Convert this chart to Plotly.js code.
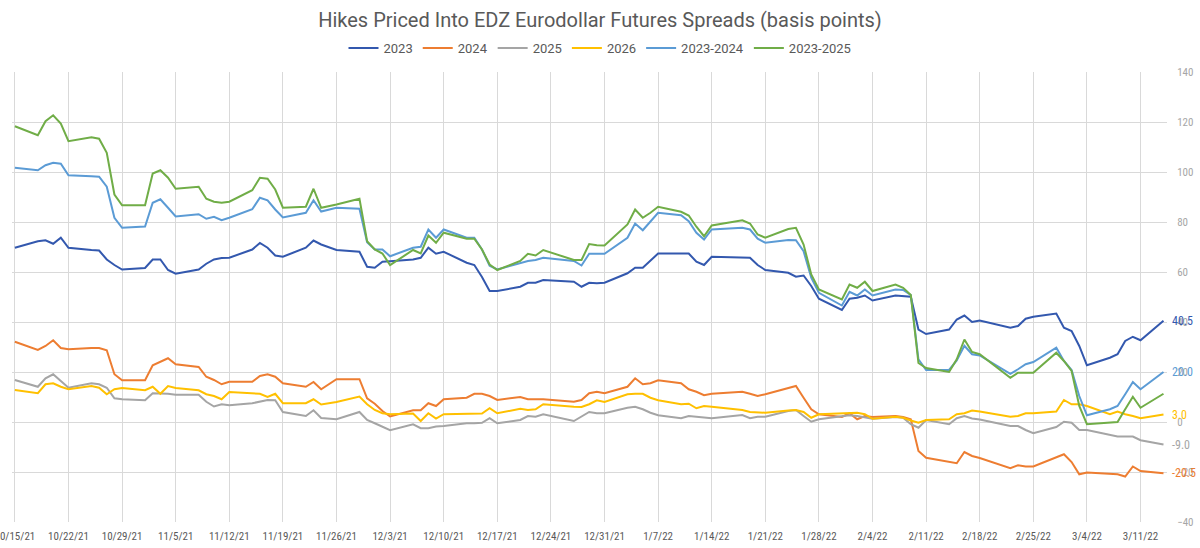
<!DOCTYPE html>
<html>
<head>
<meta charset="utf-8">
<script src="https://cdn.plot.ly/plotly-3.0.1.min.js"></script>
<style>html,body{margin:0;padding:0;background:#fff;}#chart{width:1200px;height:548px;}</style>
</head>
<body>
<div id="chart"></div>
<script>
const dates = [
 '2021-10-15','2021-10-18','2021-10-19','2021-10-20','2021-10-21','2021-10-22','2021-10-25','2021-10-26','2021-10-27','2021-10-28','2021-10-29',
 '2021-11-01','2021-11-02','2021-11-03','2021-11-04','2021-11-05','2021-11-08','2021-11-09','2021-11-10','2021-11-11','2021-11-12',
 '2021-11-15','2021-11-16','2021-11-17','2021-11-18','2021-11-19','2021-11-22','2021-11-23','2021-11-24','2021-11-26','2021-11-29','2021-11-30',
 '2021-12-01','2021-12-02','2021-12-03','2021-12-06','2021-12-07','2021-12-08','2021-12-09','2021-12-10','2021-12-13','2021-12-14','2021-12-15','2021-12-16','2021-12-17',
 '2021-12-20','2021-12-21','2021-12-22','2021-12-23','2021-12-27','2021-12-28','2021-12-29','2021-12-30','2021-12-31',
 '2022-01-03','2022-01-04','2022-01-05','2022-01-06','2022-01-07','2022-01-10','2022-01-11','2022-01-12','2022-01-13','2022-01-14',
 '2022-01-18','2022-01-19','2022-01-20','2022-01-21','2022-01-24','2022-01-25','2022-01-26','2022-01-27','2022-01-28','2022-01-31',
 '2022-02-01','2022-02-02','2022-02-03','2022-02-04','2022-02-07','2022-02-08','2022-02-09','2022-02-10','2022-02-11',
 '2022-02-14','2022-02-15','2022-02-16','2022-02-17','2022-02-18','2022-02-22','2022-02-23','2022-02-24','2022-02-25','2022-02-28',
 '2022-03-01','2022-03-02','2022-03-03','2022-03-04','2022-03-07','2022-03-08','2022-03-09','2022-03-10','2022-03-11','2022-03-14'
];

const s2023 = [
 69.7,72.3,72.7,71.3,73.7,69.7,68.8,68.6,65.0,62.8,61.0,
 61.6,65.0,65.0,60.8,59.3,61.0,63.3,65.0,65.6,65.7,69.0,71.6,69.7,66.6,66.1,69.7,72.6,71.0,68.8,68.1,62.1,
 61.7,64.1,64.3,65.0,65.7,69.7,67.3,68.1,63.7,62.8,58.0,52.4,52.4,54.1,55.7,55.7,56.8,56.1,54.1,55.7,55.5,55.7,
 59.5,61.7,61.7,64.5,67.4,67.4,67.4,64.1,62.8,66.1,65.8,65.7,62.8,60.8,59.7,58.1,58.6,54.4,49.3,44.8,
 49.3,49.7,50.6,48.6,50.6,50.4,50.1,37.0,35.2,37.0,41.0,42.6,40.0,40.6,37.7,38.4,41.3,42.1,43.4,
 37.7,36.4,30.4,22.7,25.7,27.1,32.4,34.1,32.7,40.5
];
const s2024 = [
 32.1,28.8,30.4,32.7,29.6,29.1,29.6,29.6,28.7,19.1,16.7,
 16.7,22.7,24.1,25.5,23.1,22.0,18.1,16.8,15.1,16.1,16.1,18.4,19.1,18.1,15.5,14.1,16.0,13.1,17.1,17.1,9.5,
 7.3,4.4,2.2,4.7,4.7,7.5,6.4,9.1,9.7,11.3,11.3,10.4,8.8,10.0,9.1,9.1,9.1,8.1,8.8,11.5,12.1,11.5,
 14.1,17.5,15.1,15.5,16.7,15.5,13.1,12.1,10.7,11.3,12.1,11.3,10.4,11.1,13.5,14.4,9.7,5.1,3.1,2.0,
 3.5,1.1,2.4,2.0,2.4,2.0,1.1,-11.6,-14.3,-16.0,-16.5,-12.0,-13.6,-14.4,-18.5,-17.3,-17.8,-17.8,-14.2,
 -12.9,-16.0,-20.9,-20.2,-20.5,-20.9,-21.8,-17.8,-19.6,-20.5
];
const s2025 = [
 16.8,14.1,17.5,19.1,16.4,13.7,15.5,15.1,13.7,9.5,9.1,
 8.7,11.5,11.5,11.3,10.9,10.9,8.1,6.2,7.1,6.7,7.5,8.1,8.8,8.7,4.0,2.4,4.7,1.6,1.1,4.0,0.8,
 -0.5,-2.0,-3.3,-0.9,-2.5,-2.5,-1.8,-1.6,-0.5,-0.5,-0.3,1.5,-0.5,0.8,2.4,2.1,3.1,0.4,2.1,4.0,3.5,3.5,
 5.7,6.1,5.1,3.7,2.7,1.5,2.4,2.1,1.5,1.5,2.8,1.5,2.1,2.1,4.4,4.8,2.4,0.1,1.1,2.4,
 2.7,2.4,1.7,1.3,2.0,1.7,-0.9,-2.3,0.8,-0.9,1.5,2.4,1.4,1.0,-1.6,-1.6,-3.2,-4.5,-2.0,
 0.1,-0.3,-3.2,-3.2,-5.2,-5.8,-5.8,-5.8,-7.3,-9.0
];
const s2026 = [
 12.8,11.5,15.1,15.5,14.1,13.1,14.4,13.7,11.1,13.1,13.6,
 12.7,14.1,11.3,14.4,13.6,12.7,11.1,10.4,9.1,12.0,11.5,11.3,10.0,11.3,7.5,7.5,9.1,7.0,8.0,10.2,7.1,
 4.8,3.5,3.1,3.4,0.4,3.5,1.4,3.1,3.1,3.1,3.4,5.5,3.5,5.3,4.8,5.1,7.1,6.1,6.0,7.1,8.7,8.0,
 11.1,11.3,11.3,9.7,8.7,7.1,7.3,5.5,6.4,6.1,4.8,4.0,3.7,3.7,4.6,4.8,4.0,1.7,3.1,3.5,
 3.7,3.7,3.1,1.3,2.1,1.7,0.6,-0.3,0.8,1.1,3.1,3.5,4.6,4.2,2.1,2.4,3.5,3.5,4.2,
 8.8,7.1,7.1,6.4,3.1,4.2,3.1,2.4,1.5,3.0
];
const s2023_2024 = [
 101.7,100.7,102.7,103.7,103.3,98.7,98.3,98.1,94.1,81.7,77.7,
 78.2,87.7,89.1,85.7,82.2,83.1,81.3,82.1,80.7,81.7,85.1,89.7,88.7,85.0,81.8,83.7,88.7,84.2,85.7,85.3,71.9,
 69.0,69.0,66.3,69.7,70.1,77.0,73.7,77.0,73.7,73.7,69.0,62.5,61.0,63.7,64.4,64.8,65.7,64.4,62.6,67.3,67.3,67.3,
 73.7,79.4,76.7,80.3,83.7,82.7,80.3,75.7,73.0,77.0,77.7,77.0,73.3,71.7,72.8,72.7,68.3,57.7,51.7,46.6,
 52.1,50.6,53.0,50.6,53.0,52.8,50.8,25.1,20.8,20.8,24.6,30.5,27.1,26.6,19.3,21.1,23.1,24.0,29.7,
 24.4,20.8,10.4,2.7,5.1,6.4,11.1,16.0,13.1,20.0
];
const s2023_2025 = [
 118.3,114.7,120.3,122.7,119.4,112.3,113.9,113.3,107.7,91.0,86.7,
 86.7,99.4,100.7,97.7,93.3,94.1,89.3,88.1,87.7,88.1,92.7,97.7,97.3,93.0,85.7,86.1,93.3,85.7,87.0,89.3,72.3,
 69.0,67.4,62.8,68.8,67.4,74.6,71.7,75.7,73.3,73.3,69.0,63.0,60.8,64.4,67.3,66.6,68.8,64.8,64.8,71.2,70.7,70.6,
 79.0,85.0,81.7,83.7,86.1,84.1,82.6,78.1,74.3,78.6,80.7,79.4,75.0,73.7,77.2,77.7,71.0,59.0,53.0,49.0,
 55.0,53.7,56.1,52.4,55.0,53.7,50.8,23.6,21.6,20.0,25.1,33.0,28.0,27.1,17.7,19.7,19.7,19.7,27.7,
 24.4,20.4,6.4,-0.9,-0.3,0.0,5.1,10.1,5.7,11.3
];

const seriesNames = ['2023','2024','2025','2026','2023-2024','2023-2025'];
const seriesValues = [s2023, s2024, s2025, s2026, s2023_2024, s2023_2025];
const seriesColors = ['#3358AE','#ED7D31','#A5A5A5','#FFC000','#5B9BD5','#70AD47'];
const endLabelSeries = ['2023','2024','2025','2026','2023-2024'];

const narrow = '"Liberation Sans Narrow", "Roboto Condensed", "DejaVu Sans Condensed", Roboto, sans-serif';

const traces = seriesNames.map((n, i) => ({
  type: 'scatter', mode: 'lines', name: n, x: dates, y: seriesValues[i],
  line: {color: seriesColors[i], width: 2}, hoverinfo: 'x+y+name'
}));

const annotations = endLabelSeries.map(n => {
  const i = seriesNames.indexOf(n);
  const v = seriesValues[i];
  const last = v[v.length - 1];
  return {
    x: dates[dates.length - 1], y: last, xref: 'x', yref: 'y',
    text: last.toFixed(1), showarrow: false, xanchor: 'left', yanchor: 'middle',
    xshift: 7, font: {family: narrow, size: 12, color: seriesColors[i]}
  };
});

const layout = {
  width: 1200, height: 548,
  margin: {l: 12, r: 33, t: 72, b: 26, pad: 0},
  paper_bgcolor: '#ffffff', plot_bgcolor: '#ffffff',
  title: {text: 'Hikes Priced Into EDZ Eurodollar Futures Spreads (basis points)',
    font: {family: 'Roboto, sans-serif', size: 20, color: '#595959'},
    x: 0.5, xanchor: 'center', y: 1 - 20/548, yanchor: 'middle', yref: 'container'},
  showlegend: true,
  legend: {orientation: 'h', x: 0.5, xanchor: 'center', xref: 'container',
    y: 1 - 48/548, yanchor: 'middle', yref: 'container',
    font: {family: 'Roboto, sans-serif', size: 13, color: '#595959'},
    traceorder: 'normal', itemwidth: 30},
  xaxis: {type: 'date', range: ['2021-10-14 15:00', '2022-03-14 11:00'],
    tick0: '2021-10-15', dtick: 7 * 86400000, tickformat: '%-m/%-d/%y',
    showgrid: true, gridcolor: '#d9d9d9', gridwidth: 1, zeroline: false,
    showline: false, ticks: 'outside', ticklen: 4, tickcolor: 'rgba(0,0,0,0)',
    ticklabeloverflow: 'allow',
    tickfont: {family: narrow, size: 11, color: '#595959'}},
  yaxis: {side: 'right', range: [-40, 140], dtick: 20, tick0: 0,
    showgrid: true, gridcolor: '#d9d9d9', gridwidth: 1, zeroline: false,
    showline: false, ticks: 'outside', ticklen: 7, tickcolor: 'rgba(0,0,0,0)',
    tickfont: {family: narrow, size: 11, color: '#a6a6a6'}},
  annotations: annotations,
  hovermode: 'closest'
};

Plotly.newPlot('chart', traces, layout, {displayModeBar: false, staticPlot: true});
</script>
</body>
</html>
